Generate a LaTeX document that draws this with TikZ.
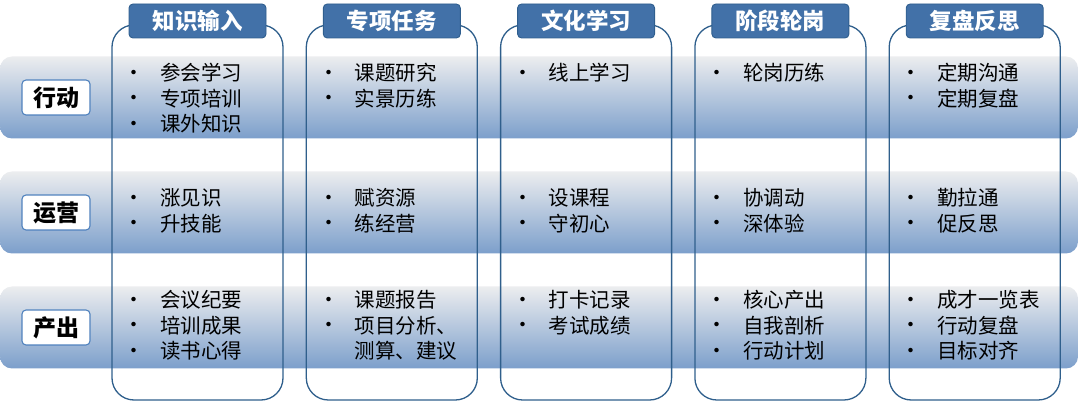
\documentclass[tikz,border=0pt]{standalone}
\usepackage{fontspec}
\setmainfont{Noto Sans CJK SC}
\definecolor{hdrfill}{RGB}{66,113,168}
\definecolor{hdrline}{RGB}{47,94,142}
\definecolor{colline}{RGB}{47,95,140}
\definecolor{bandtop}{RGB}{236,237,239}
\definecolor{bandbot}{RGB}{124,159,203}
\definecolor{labline}{RGB}{80,130,190}
\newcommand\cellitem[1]{\makebox[44pt]{\raisebox{0.5pt}{\fontsize{21}{21}\selectfont •}}\hspace{4pt}#1}
\newcommand\cellplain[1]{\hspace{48pt}#1}
\begin{document}
\begin{tikzpicture}[x=1pt,y=-1pt,
  band/.style={rectangle, rounded corners=12pt, top color=bandtop, bottom color=bandbot, draw=none, minimum width=1078pt, minimum height=82pt, inner sep=0pt},
  rowlab/.style={rectangle, rounded corners=4pt, draw=labline, line width=1.1pt, fill=white, minimum width=68pt, minimum height=35pt, inner sep=0pt, font=\bfseries\fontsize{23}{25}\selectfont},
  colbox/.style={rectangle, rounded corners=22pt, draw=colline, line width=1.3pt, minimum width=171pt, minimum height=375pt, inner sep=0pt},
  hdr/.style={rectangle, rounded corners=4pt, draw=hdrline, line width=0.9pt, fill=hdrfill, text=white, minimum width=137pt, minimum height=34pt, inner sep=0pt, font=\bfseries\fontsize{22.5}{25}\selectfont},
  cell/.style={anchor=base west, inner sep=0pt, font=\fontsize{20.5}{25.5}\selectfont}
]
\useasboundingbox (0,0) rectangle (1080,403);
% bands
\node[band] (b1) at (539,97.5) {};
\node[band] (b2) at (539,212.5) {};
\node[band] (b3) at (539,327.5) {};
% row labels
\node[rowlab] (r1) at (56,97.5) {行动};
\node[rowlab] (r2) at (56,212.5) {运营};
\node[rowlab] (r3) at (56,327.5) {产出};
% columns
\node[colbox] (k1) at (197.5,212.5) {};
\node[colbox] (k2) at (391.8,212.5) {};
\node[colbox] (k3) at (586.1,212.5) {};
\node[colbox] (k4) at (780.4,212.5) {};
\node[colbox] (k5) at (974.7,212.5) {};
% headers
\node[hdr] (h1) at (197.5,21) {知识输入};
\node[hdr] (h2) at (391.8,21) {专项任务};
\node[hdr] (h3) at (586.1,21) {文化学习};
\node[hdr] (h4) at (780.4,21) {阶段轮岗};
\node[hdr] (h5) at (974.7,21) {复盘反思};
% cells row 1
\node[cell] (t11) at (112,81) {\begin{tabular}[t]{@{}l@{}}\cellitem{参会学习}\\\cellitem{专项培训}\\\cellitem{课外知识}\end{tabular}};
\node[cell] (t21) at (306.3,81) {\begin{tabular}[t]{@{}l@{}}\cellitem{课题研究}\\\cellitem{实景历练}\end{tabular}};
\node[cell] (t31) at (500.6,81) {\begin{tabular}[t]{@{}l@{}}\cellitem{线上学习}\end{tabular}};
\node[cell] (t41) at (694.9,81) {\begin{tabular}[t]{@{}l@{}}\cellitem{轮岗历练}\end{tabular}};
\node[cell] (t51) at (889.2,81) {\begin{tabular}[t]{@{}l@{}}\cellitem{定期沟通}\\\cellitem{定期复盘}\end{tabular}};
% cells row 2
\node[cell] (t12) at (112,206) {\begin{tabular}[t]{@{}l@{}}\cellitem{涨见识}\\\cellitem{升技能}\end{tabular}};
\node[cell] (t22) at (306.3,206) {\begin{tabular}[t]{@{}l@{}}\cellitem{赋资源}\\\cellitem{练经营}\end{tabular}};
\node[cell] (t32) at (500.6,206) {\begin{tabular}[t]{@{}l@{}}\cellitem{设课程}\\\cellitem{守初心}\end{tabular}};
\node[cell] (t42) at (694.9,206) {\begin{tabular}[t]{@{}l@{}}\cellitem{协调动}\\\cellitem{深体验}\end{tabular}};
\node[cell] (t52) at (889.2,206) {\begin{tabular}[t]{@{}l@{}}\cellitem{勤拉通}\\\cellitem{促反思}\end{tabular}};
% cells row 3
\node[cell] (t13) at (112,308) {\begin{tabular}[t]{@{}l@{}}\cellitem{会议纪要}\\\cellitem{培训成果}\\\cellitem{读书心得}\end{tabular}};
\node[cell] (t23) at (306.3,308) {\begin{tabular}[t]{@{}l@{}}\cellitem{课题报告}\\\cellitem{项目分析、}\\\cellplain{测算、建议}\end{tabular}};
\node[cell] (t33) at (500.6,308) {\begin{tabular}[t]{@{}l@{}}\cellitem{打卡记录}\\\cellitem{考试成绩}\end{tabular}};
\node[cell] (t43) at (694.9,308) {\begin{tabular}[t]{@{}l@{}}\cellitem{核心产出}\\\cellitem{自我剖析}\\\cellitem{行动计划}\end{tabular}};
\node[cell] (t53) at (889.2,308) {\begin{tabular}[t]{@{}l@{}}\cellitem{成才一览表}\\\cellitem{行动复盘}\\\cellitem{目标对齐}\end{tabular}};
\end{tikzpicture}
\end{document}
